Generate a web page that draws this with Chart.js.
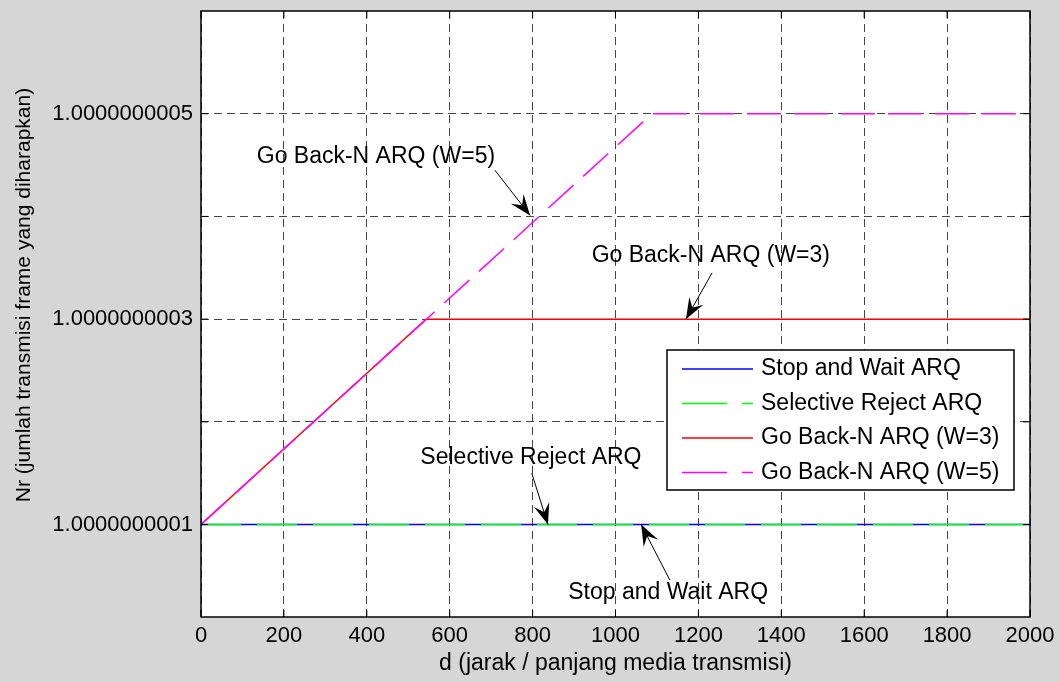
<!DOCTYPE html>
<html>
<head>
<meta charset="utf-8">
<script src="https://cdn.jsdelivr.net/npm/chart.js@4"></script>
<style>
  body { margin: 0; background: #d6d6d6; }
  canvas { display: block; }
</style>
</head>
<body>
<canvas id="myChart" width="1060" height="682"></canvas>
<script>
// data (d = distance, Nr = expected transmissions)
const stopWaitD = [0, 2000];
const stopWaitNr = [1.0000000001, 1.0000000001];
const selRejectD = [0, 2000];
const selRejectNr = [1.0000000001, 1.0000000001];
const gbn3D = [0, 543, 2000];
const gbn3Nr = [1.0000000001, 1.0000000003, 1.0000000003];
const gbn5D = [0, 1088, 2000];
const gbn5Nr = [1.0000000001, 1.0000000005, 1.0000000005];

const yTickValues = [1.0000000001, 1.0000000002, 1.0000000003, 1.0000000004, 1.0000000005];
const yLabelled = [1.0000000001, 1.0000000003, 1.0000000005];

const seriesNames = ["Stop and Wait ARQ", "Selective Reject ARQ", "Go Back-N ARQ (W=3)", "Go Back-N ARQ (W=5)"];
const xTitle = "d (jarak / panjang media transmisi)";
const yTitle = "Nr (jumlah transmisi frame yang diharapkan)";

// annotations: text position, arrow tail, arrow head (d, Nr)
const notes = [
  { text: "Go Back-N ARQ (W=5)", at: [422, 1.000000000458], tail: [709, 1.000000000445], head: [794, 1.000000000401] },
  { text: "Go Back-N ARQ (W=3)", at: [1230, 1.000000000362], tail: [1233, 1.000000000345], head: [1170, 1.0000000003] },
  { text: "Selective Reject ARQ", at: [796, 1.000000000165], tail: [798, 1.00000000015], head: [837, 1.0000000001] },
  { text: "Stop and Wait ARQ", at: [1127, 1.000000000034], tail: [1131, 1.000000000046], head: [1062, 1.0000000001] },
];

// work in units of 1e-10 above 1, the doubles get too close otherwise
const toUnits = (v) => (v - 1) * 1e10;
const toPoints = (xs, ys) => xs.map((x, i) => ({ x: x, y: toUnits(ys[i]) }));

const FONT = '"Liberation Sans", Arial, Helvetica, sans-serif';
const TEXT_FONT = "23px " + FONT;

// order: lower is drawn on top (green over blue, magenta over red)
const data = {
  datasets: [
    { label: seriesNames[0], data: toPoints(stopWaitD, stopWaitNr), borderColor: "#0000ff", borderWidth: 1.5, order: 4 },
    { label: seriesNames[1], data: toPoints(selRejectD, selRejectNr), borderColor: "#00ff00", borderWidth: 1.5, borderDash: [40, 16], order: 3 },
    { label: seriesNames[2], data: toPoints(gbn3D, gbn3Nr), borderColor: "#ff0000", borderWidth: 1.5, order: 2 },
    { label: seriesNames[3], data: toPoints(gbn5D, gbn5Nr), borderColor: "#ff00ff", borderWidth: 1.5, borderDash: [34, 13], order: 1 },
  ],
};

function arrowHead(ctx, x1, y1, x2, y2) {
  const a = Math.atan2(y2 - y1, x2 - x1);
  const len = 21, half = 8, notch = 13;
  ctx.save();
  ctx.translate(x2, y2);
  ctx.rotate(a);
  ctx.beginPath();
  ctx.moveTo(0, 0);
  ctx.lineTo(-len, -half);
  ctx.lineTo(-notch, 0);
  ctx.lineTo(-len, half);
  ctx.closePath();
  ctx.fill();
  ctx.restore();
}

const extras = {
  id: "extras",
  beforeDraw(chart) {
    const { ctx, chartArea: a } = chart;
    ctx.save();
    ctx.fillStyle = "#d6d6d6";
    ctx.fillRect(0, 0, chart.width, chart.height);
    ctx.fillStyle = "#ffffff";
    ctx.fillRect(a.left, a.top, a.right - a.left, a.bottom - a.top);
    ctx.restore();
  },
  afterDraw(chart) {
    const { ctx, chartArea: a } = chart;
    const xs = chart.scales.x, ys = chart.scales.y;
    ctx.save();

    // axes box and inner ticks
    ctx.strokeStyle = "#000";
    ctx.lineWidth = 1.5;
    ctx.strokeRect(a.left, a.top, a.right - a.left, a.bottom - a.top);
    ctx.lineWidth = 1;
    ctx.beginPath();
    xs.ticks.forEach((t) => {
      const px = xs.getPixelForValue(t.value);
      ctx.moveTo(px, a.bottom); ctx.lineTo(px, a.bottom - 7);
      ctx.moveTo(px, a.top); ctx.lineTo(px, a.top + 7);
    });
    ys.ticks.forEach((t) => {
      const py = ys.getPixelForValue(t.value);
      ctx.moveTo(a.left, py); ctx.lineTo(a.left + 7, py);
      ctx.moveTo(a.right, py); ctx.lineTo(a.right - 7, py);
    });
    ctx.stroke();

    // axis titles
    ctx.font = TEXT_FONT;
    ctx.fillStyle = "#000";
    ctx.textAlign = "center";
    ctx.textBaseline = "middle";
    ctx.fillText(xTitle, (a.left + a.right) / 2, a.bottom + 47);
    ctx.save();
    ctx.translate(24, a.top + 284);
    ctx.rotate(-Math.PI / 2);
    ctx.font = "21px " + FONT;
    ctx.fillText(yTitle, 0, 0);
    ctx.restore();

    // annotations
    notes.forEach((n) => {
      ctx.fillText(n.text, xs.getPixelForValue(n.at[0]), ys.getPixelForValue(toUnits(n.at[1])));
      const x1 = xs.getPixelForValue(n.tail[0]), y1 = ys.getPixelForValue(toUnits(n.tail[1]));
      const x2 = xs.getPixelForValue(n.head[0]), y2 = ys.getPixelForValue(toUnits(n.head[1]));
      ctx.beginPath();
      ctx.moveTo(x1, y1); ctx.lineTo(x2, y2);
      ctx.stroke();
      arrowHead(ctx, x1, y1, x2, y2);
    });

    // legend box inside the axes
    const lw = 347, lh = 140;
    const lx = a.right - 16 - lw, ly = a.top + 339;
    ctx.fillStyle = "#fff";
    ctx.fillRect(lx, ly, lw, lh);
    ctx.lineWidth = 1.5;
    ctx.strokeRect(lx, ly, lw, lh);
    ctx.textAlign = "left";
    chart.data.datasets.forEach((ds, i) => {
      const y = ly + 19 + i * 34.5;
      ctx.strokeStyle = ds.borderColor;
      ctx.lineWidth = 1.5;
      ctx.setLineDash(ds.borderDash ? [45, 15] : []);
      ctx.beginPath();
      ctx.moveTo(lx + 15, y); ctx.lineTo(lx + 86, y);
      ctx.stroke();
      ctx.setLineDash([]);
      ctx.fillStyle = "#000";
      ctx.fillText(ds.label, lx + 94, y);
    });
    ctx.restore();
  },
};

const config = {
  type: "line",
  data: data,
  options: {
    responsive: false,
    animation: false,
    devicePixelRatio: 1,
    elements: { point: { radius: 0 }, line: { tension: 0 } },
    layout: { padding: { top: 11, right: 30, left: 0, bottom: 0 } },
    plugins: { legend: { display: false }, tooltip: { enabled: false } },
    scales: {
      x: {
        type: "linear",
        min: 0,
        max: 2000,
        afterFit: (s) => { s.height = 65; s.paddingLeft = 0; s.paddingRight = 0; },
        ticks: { stepSize: 200, color: "#000", font: { size: 22, family: FONT }, padding: 6, maxRotation: 0, callback: (v) => String(v) },
        grid: { color: "#444", drawTicks: false },
        border: { display: false, dash: [8, 5] },
      },
      y: {
        type: "linear",
        min: 0.1,
        max: 6,
        afterFit: (s) => { s.width = 201; s.paddingTop = 0; s.paddingBottom = 0; },
        afterBuildTicks: (s) => { s.ticks = yTickValues.map((v) => ({ value: toUnits(v) })); },
        ticks: {
          color: "#000",
          font: { size: 22, family: FONT },
          padding: 8,
          callback: (v) => {
            const hit = yLabelled.find((l) => Math.abs(toUnits(l) - v) < 1e-3);
            return hit ? hit.toFixed(10) : "";
          },
        },
        grid: { color: "#444", drawTicks: false },
        border: { display: false, dash: [8, 5] },
      },
    },
  },
  plugins: [extras],
};

const context = document.getElementById("myChart").getContext("2d");
const chart = new Chart(context, config);
</script>
</body>
</html>
